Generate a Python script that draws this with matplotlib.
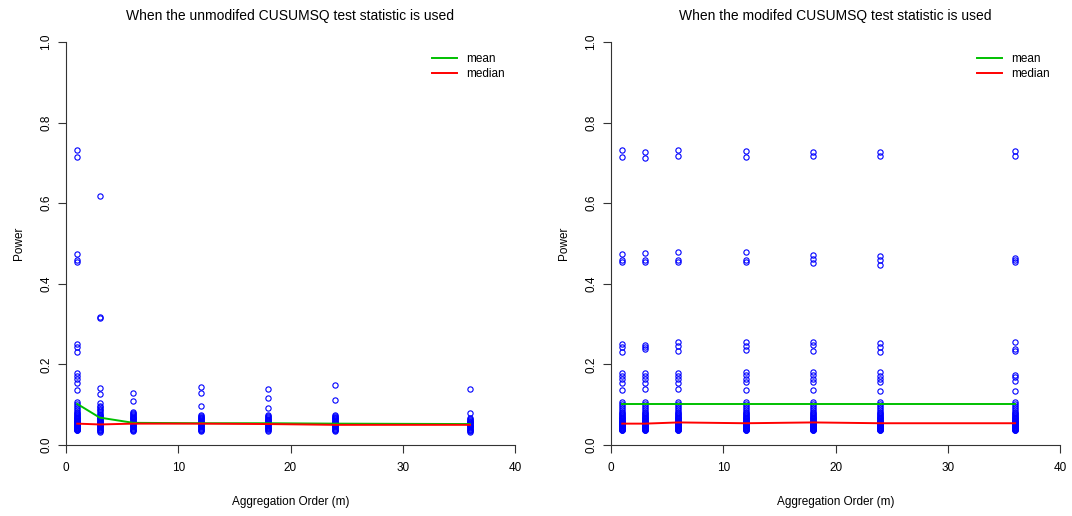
import matplotlib.pyplot as plt

plt.rcParams['font.family'] = ['Liberation Sans', 'DejaVu Sans']

m_values = [1, 3, 6, 12, 18, 24, 36]

low_cluster = [0.106, 0.101, 0.097, 0.092, 0.087, 0.083, 0.079, 0.076, 0.074, 0.072,
               0.070, 0.068, 0.066, 0.064, 0.062, 0.060, 0.059, 0.057, 0.056, 0.054,
               0.053, 0.052, 0.050, 0.049, 0.048, 0.046, 0.045, 0.044, 0.042, 0.041,
               0.040, 0.039, 0.038, 0.037, 0.036]

# power values for the unmodified statistic, one list per aggregation order
unmod_m1 = [0.732, 0.714, 0.473, 0.460, 0.453, 0.251, 0.244, 0.232, 0.178, 0.170,
            0.163, 0.155, 0.136] + low_cluster
unmod_m3 = [0.619, 0.318, 0.315, 0.142, 0.126, 0.103, 0.098, 0.094, 0.090, 0.086,
            0.082, 0.078, 0.075, 0.072, 0.070, 0.068, 0.066, 0.064, 0.062, 0.060,
            0.058, 0.056, 0.054, 0.052, 0.050, 0.048, 0.046, 0.044, 0.042, 0.040,
            0.038, 0.036, 0.034, 0.032]
unmod_m6 = [0.128, 0.110, 0.083, 0.080, 0.077, 0.075, 0.072, 0.070, 0.068, 0.066,
            0.064, 0.062, 0.060, 0.058, 0.056, 0.054, 0.052, 0.050, 0.048, 0.046,
            0.044, 0.042, 0.040, 0.038, 0.036, 0.034]
unmod_m12 = [0.143, 0.128, 0.097, 0.074, 0.072, 0.070, 0.068, 0.066, 0.064, 0.062,
             0.060, 0.058, 0.056, 0.054, 0.052, 0.050, 0.048, 0.046, 0.044, 0.042,
             0.040, 0.038, 0.036, 0.034]
unmod_m18 = [0.138, 0.117, 0.091, 0.074, 0.071, 0.069, 0.067, 0.065, 0.063, 0.061,
             0.059, 0.057, 0.055, 0.053, 0.051, 0.049, 0.047, 0.045, 0.043, 0.041,
             0.039, 0.037, 0.035]
unmod_m24 = [0.149, 0.112, 0.074, 0.072, 0.070, 0.068, 0.066, 0.064, 0.062, 0.060,
             0.058, 0.056, 0.054, 0.052, 0.050, 0.048, 0.046, 0.044, 0.042, 0.040,
             0.038, 0.036, 0.034]
unmod_m36 = [0.138, 0.079, 0.066, 0.064, 0.062, 0.060, 0.058, 0.056, 0.054, 0.052,
             0.050, 0.048, 0.046, 0.044, 0.042, 0.040, 0.038, 0.036, 0.034, 0.032]

# power values for the modified statistic
mod_m1 = unmod_m1
mod_m3 = [0.728, 0.711, 0.476, 0.458, 0.455, 0.249, 0.244, 0.238, 0.179, 0.171,
          0.163, 0.155, 0.138] + low_cluster
mod_m6 = [0.732, 0.718, 0.478, 0.458, 0.455, 0.256, 0.245, 0.234, 0.179, 0.171,
          0.163, 0.155, 0.138] + low_cluster
mod_m12 = [0.730, 0.715, 0.478, 0.458, 0.455, 0.256, 0.245, 0.236, 0.181, 0.173,
           0.165, 0.157, 0.136] + low_cluster
mod_m18 = [0.728, 0.718, 0.472, 0.462, 0.452, 0.256, 0.248, 0.234, 0.181, 0.173,
           0.165, 0.157, 0.136] + low_cluster
mod_m24 = [0.728, 0.716, 0.470, 0.458, 0.447, 0.252, 0.243, 0.232, 0.180, 0.172,
           0.164, 0.156, 0.135] + low_cluster
mod_m36 = [0.730, 0.718, 0.465, 0.458, 0.455, 0.256, 0.237, 0.233, 0.174, 0.168,
           0.160, 0.135] + low_cluster

unmod_mean = [0.102, 0.068, 0.055, 0.054, 0.054, 0.053, 0.052]
unmod_median = [0.053, 0.051, 0.053, 0.053, 0.052, 0.050, 0.050]
mod_mean = [0.1025, 0.1025, 0.1025, 0.1025, 0.1025, 0.1025, 0.1025]
mod_median = [0.053, 0.053, 0.056, 0.054, 0.056, 0.054, 0.054]

panels = [
    ("When the unmodifed CUSUMSQ test statistic is used",
     [unmod_m1, unmod_m3, unmod_m6, unmod_m12, unmod_m18, unmod_m24, unmod_m36],
     unmod_mean, unmod_median),
    ("When the modifed CUSUMSQ test statistic is used",
     [mod_m1, mod_m3, mod_m6, mod_m12, mod_m18, mod_m24, mod_m36],
     mod_mean, mod_median),
]

fig = plt.figure(figsize=(10.72, 5.16), dpi=100)
lefts = [66 / 1072, 611 / 1072]

for left, (title, columns, mean, median) in zip(lefts, panels):
    ax = fig.add_axes([left, 71 / 516, 449 / 1072, 403 / 516])
    # scatter of every scenario at each aggregation order
    for m, vals in zip(m_values, columns):
        ax.plot([m] * len(vals), vals, 'o', color='blue', fillstyle='none',
                markersize=3.8, markeredgewidth=0.8, linestyle='none')
    ax.plot(m_values, mean, color='#00c000', lw=1.4, label='mean')
    ax.plot(m_values, median, color='red', lw=1.4, label='median')

    ax.set_xlim(0, 40)
    ax.set_ylim(0, 1)
    ax.set_xticks([0, 10, 20, 30, 40])
    ax.set_yticks([0, 0.2, 0.4, 0.6, 0.8, 1.0])
    ax.set_yticklabels(['0.0', '0.2', '0.4', '0.6', '0.8', '1.0'],
                       rotation=90, va='center')
    for side in ['top', 'right']:
        ax.spines[side].set_visible(False)
    for side in ['left', 'bottom']:
        ax.spines[side].set_linewidth(0.8)
        ax.spines[side].set_color('#333333')
    ax.tick_params(direction='out', length=6, width=0.8, labelsize=8.5,
                   color='#333333', pad=4)
    ax.tick_params(axis='x', pad=6)
    ax.set_title(title, fontsize=10, pad=16)
    ax.set_xlabel('Aggregation Order (m)', fontsize=8.5, labelpad=16)
    ax.set_ylabel('Power', fontsize=8.5, labelpad=11)
    ax.legend(loc='upper left', bbox_to_anchor=(0.805, 0.985), frameon=False,
              fontsize=8.5, handlelength=2.1, handletextpad=0.8,
              labelspacing=0.3, borderaxespad=0)

fig.savefig('out.png', dpi=100)
